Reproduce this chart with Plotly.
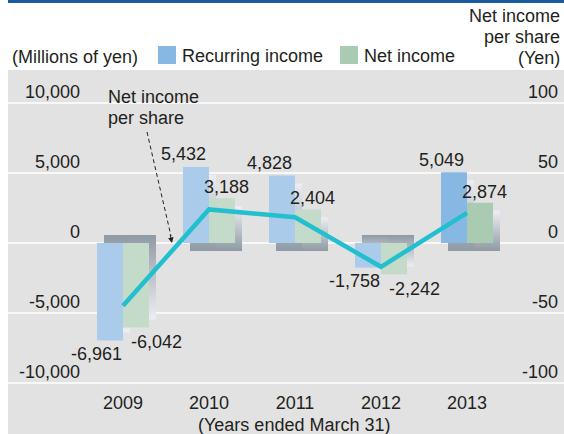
import plotly.graph_objects as go

# ---- data -------------------------------------------------------------
YEARS = ["2009", "2010", "2011", "2012", "2013"]
RECURRING_INCOME = [-6961, 5432, 4828, -1758, 5049]      # millions of yen
NET_INCOME = [-6042, 3188, 2404, -2242, 2874]            # millions of yen
NET_INCOME_PER_SHARE = [-44.8, 24.0, 18.4, -17.0, 21.5]  # yen

Y_TICKS = [-10000, -5000, 0, 5000, 10000]
Y_TICK_TEXT = ["-10,000", "-5,000", "0", "5,000", "10,000"]
Y2_TICKS = [-100, -50, 0, 50, 100]
Y2_TICK_TEXT = ["-100", "-50", "0", "50", "100"]

# ---- layout geometry (pixels) ------------------------------------------
W, H = 564, 434
PL, PR, PT, PB = 86, 564, 70, 390          # plot area edges
X_UNIT = 86.0                               # px per category
X0_PX = 123.0                               # px of first group centre
Y_PX_PER_UNIT = 70.0 / 5000.0
ZERO_PX = 243.0

X_RANGE = [(PL - X0_PX) / X_UNIT, (PR - X0_PX) / X_UNIT]
Y_RANGE = [-(PB - ZERO_PX) / Y_PX_PER_UNIT, (ZERO_PX - PT) / Y_PX_PER_UNIT]
Y2_RANGE = [Y_RANGE[0] / 100.0, Y_RANGE[1] / 100.0]

BAR_W = 26.0 / X_UNIT
SHADOW_DX = 7.0 / X_UNIT
SHADOW_DY = 8.0 / Y_PX_PER_UNIT


def px(xp):
    return (xp - PL) / (PR - PL)


def py(yp):
    return (PB - yp) / (PB - PT)


FONT = "Liberation Sans, Arial, Helvetica, sans-serif"
TXT = "#231f20"
BLUE = ["#abcbeb", "#abcbeb", "#abcbeb", "#abcbeb", "#86b8e3"]
GREEN = ["#c3dbc8", "#c3dbc8", "#c3dbc8", "#c3dbc8", "#a9cbb2"]
SHADOW_DARK = "#8e9aa4"
SHADOW_LIGHT = "#eeeef4"
LINE_C = "#22bfcf"
PANEL = "#e2e2e2"

xs = list(range(len(YEARS)))
fig = go.Figure()

# ---- soft drop shadows behind each bar ---------------------------------
series = [(RECURRING_INCOME, -BAR_W), (NET_INCOME, 0.0)]
for values, offset in series:
    for i, v in zip(xs, values):
        s = 1 if v >= 0 else -1
        xl = i + offset + SHADOW_DX
        xr = xl + BAR_W
        y_near = -s * SHADOW_DY
        y_far = v - s * SHADOW_DY
        if s > 0:
            cs = [[0, SHADOW_DARK], [1, SHADOW_LIGHT]]
        else:
            cs = [[0, SHADOW_LIGHT], [1, SHADOW_DARK]]
        fig.add_trace(go.Scatter(
            x=[xl, xr, xr, xl, xl],
            y=[y_near, y_near, y_far, y_far, y_near],
            mode="lines", fill="toself",
            fillgradient=dict(type="vertical", colorscale=cs),
            line=dict(width=0), hoverinfo="skip", showlegend=False,
            xaxis="x", yaxis="y",
        ))

# ---- bars --------------------------------------------------------------
fig.add_trace(go.Bar(
    name="Recurring income", x=xs, y=RECURRING_INCOME,
    offset=-BAR_W, width=BAR_W, marker=dict(color=BLUE, line=dict(width=0)),
    xaxis="x", yaxis="y2", showlegend=False,
))
fig.add_trace(go.Bar(
    name="Net income", x=xs, y=NET_INCOME,
    offset=0.0, width=BAR_W, marker=dict(color=GREEN, line=dict(width=0)),
    xaxis="x", yaxis="y2", showlegend=False,
))

# ---- net income per share line -----------------------------------------
fig.add_trace(go.Scatter(
    name="Net income per share", x=xs, y=NET_INCOME_PER_SHARE,
    mode="lines", line=dict(color=LINE_C, width=4.5),
    xaxis="x", yaxis="y3", showlegend=False,
))

# ---- background, band and grid ------------------------------------------
shapes = [
    dict(type="rect", xref="paper", yref="paper", x0=px(8), x1=1,
         y0=py(H), y1=py(PT), fillcolor=PANEL, line=dict(width=0), layer="below"),
    dict(type="rect", xref="paper", yref="paper", x0=px(8), x1=1,
         y0=py(3), y1=py(0), fillcolor="#1b5ba0", line=dict(width=0), layer="below"),
]
for t in Y_TICKS:
    shapes.append(dict(type="line", xref="paper", yref="y", x0=px(8), x1=1,
                       y0=t, y1=t, line=dict(color="white", width=1.6), layer="below"))

# legend swatches
shapes.append(dict(type="rect", xref="paper", yref="paper", x0=px(158), x1=px(176),
                   y0=py(64), y1=py(46), fillcolor="#86b8e3", line=dict(width=0)))
shapes.append(dict(type="rect", xref="paper", yref="paper", x0=px(340), x1=px(358),
                   y0=py(64), y1=py(46), fillcolor="#a9cbb2", line=dict(width=0)))

# callout dashed line
shapes.append(dict(type="line", xref="paper", yref="paper", x0=px(147), y0=py(132),
                   x1=px(171), y1=py(236), line=dict(color="#231f20", width=1, dash="4px,3px")))

annotations = []


def text_at(x, y, text, anchor="left"):
    annotations.append(dict(xref="paper", yref="paper", x=px(x), y=py(y), text=text,
                            showarrow=False, xanchor=anchor, yanchor="middle",
                            font=dict(family=FONT, size=18, color=TXT)))


text_at(10, 57, "(Millions of yen)")
text_at(180, 56, "Recurring income")
text_at(362, 56, "Net income")
text_at(562, 16, "Net income", "right")
text_at(562, 37, "per share", "right")
text_at(562, 58, "(Yen)", "right")
text_at(106, 97, "Net income")
text_at(106, 118, "per share")

# arrow head of the callout
annotations.append(dict(xref="paper", yref="paper", x=px(172), y=py(243), ax=-2.2, ay=-10,
                        text="", showarrow=True, arrowhead=2, arrowsize=1.1,
                        arrowwidth=1, arrowcolor="#231f20", standoff=0))

# x-axis caption
text_at(294, 425, "(Years ended March 31)", "center")

# value labels: horizontal shift (px from group centre) for each series
LABEL_DX = {
    "blue_pos": -26, "blue_neg": -27,
    "green_pos": 17, "green_neg": 33,
}
for i, v in zip(xs, RECURRING_INCOME):
    key = "blue_pos" if v >= 0 else "blue_neg"
    annotations.append(dict(xref="x", yref="y", x=i, y=v, text=f"{v:,}",
                            showarrow=False, xanchor="center", yanchor="middle",
                            xshift=LABEL_DX[key], yshift=12.5 if v >= 0 else -13.5,
                            font=dict(family=FONT, size=18, color=TXT)))
for i, v in zip(xs, NET_INCOME):
    key = "green_pos" if v >= 0 else "green_neg"
    annotations.append(dict(xref="x", yref="y", x=i, y=v, text=f"{v:,}",
                            showarrow=False, xanchor="center", yanchor="middle",
                            xshift=LABEL_DX[key], yshift=11 if v >= 0 else -14.5,
                            font=dict(family=FONT, size=18, color=TXT)))

tick_font = dict(family=FONT, size=18, color=TXT)

fig.update_layout(
    width=W, height=H,
    margin=dict(l=PL, r=W - PR, t=PT, b=H - PB, autoexpand=False),
    paper_bgcolor="white", plot_bgcolor="rgba(0,0,0,0)",
    barmode="overlay", showlegend=False,
    font=dict(family=FONT, size=18, color=TXT),
    shapes=shapes, annotations=annotations,
    xaxis=dict(range=X_RANGE, tickvals=xs, ticktext=YEARS, showgrid=False,
               zeroline=False, showline=False, ticks="", tickfont=tick_font,
               ticklabelstandoff=0, fixedrange=True),
    yaxis=dict(range=Y_RANGE, tickvals=Y_TICKS, ticktext=Y_TICK_TEXT, showgrid=False,
               zeroline=False, showline=False, ticks="", tickfont=tick_font,
               ticklabelshift=-11, ticklabelstandoff=5, automargin=False),
    yaxis2=dict(range=Y_RANGE, overlaying="y", visible=False),
    yaxis3=dict(range=Y2_RANGE, overlaying="y", side="right", tickvals=Y2_TICKS,
                ticktext=Y2_TICK_TEXT, showgrid=False, zeroline=False, showline=False,
                ticks="", tickfont=tick_font, ticklabelposition="inside",
                ticklabelshift=-11, ticklabelstandoff=3, automargin=False),
)

fig.write_html("out.html")
